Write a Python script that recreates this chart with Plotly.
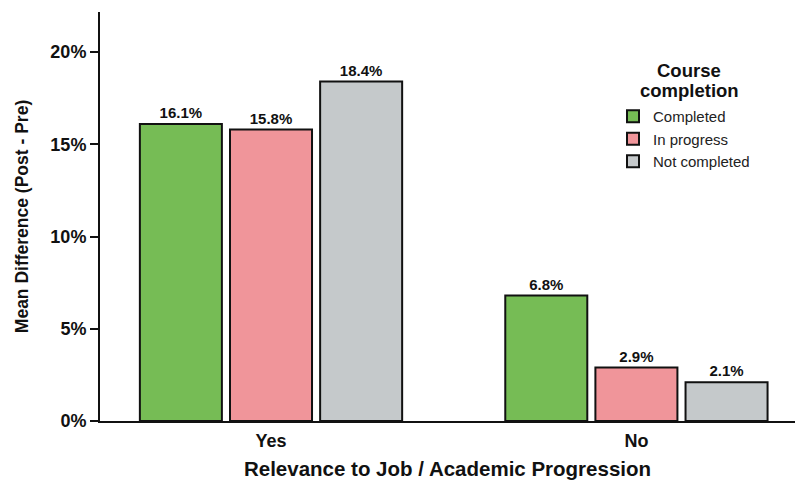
import plotly.graph_objects as go

categories = ["Yes", "No"]
series_names = ["Completed", "In progress", "Not completed"]
completed = [16.1, 6.8]
in_progress = [15.8, 2.9]
not_completed = [18.4, 2.1]
colors = ["#76BC55", "#F0959A", "#C5C9CB"]
y_ticks = [0, 5, 10, 15, 20]
y_tick_labels = ["0%", "5%", "10%", "15%", "20%"]

FONT = "Liberation Sans, Arial, sans-serif"
W, H = 795, 484
ML, MR, MT, MB = 100, 0, 12, 63
PW, PH = W - ML - MR, H - MT - MB

def px_x(x):
    return (x - ML) / PW

def px_y(y):
    return (H - MB - y) / PH

fig = go.Figure()
for name, vals, col in zip(series_names, [completed, in_progress, not_completed], colors):
    fig.add_trace(go.Bar(
        x=categories, y=vals, name=name,
        marker=dict(color=col, line=dict(color="#111111", width=2)),
        text=[f"{v:.1f}%" for v in vals],
        textposition="outside",
        textfont=dict(family=FONT, size=15, color="#111111", weight="bold"),
        cliponaxis=False,
    ))

fig.update_layout(
    width=W, height=H,
    margin=dict(l=ML, r=MR, t=MT, b=MB),
    paper_bgcolor="white", plot_bgcolor="white",
    barmode="group", bargap=0.26, bargroupgap=0.09,
    font=dict(family=FONT, color="#111111"),
    showlegend=True,
    legend=dict(x=px_x(613), y=px_y(100), xanchor="left", yanchor="top",
                font=dict(family=FONT, size=15, color="#222222"),
                tracegroupgap=0, itemwidth=30, bgcolor="rgba(0,0,0,0)"),
    xaxis=dict(range=[-0.468, 1.434], showline=True, linecolor="#111111", linewidth=2,
               ticks="", ticklabelstandoff=2, automargin=False,
               tickfont=dict(family=FONT, size=18, color="#111111", weight="bold"),
               title=dict(text="Relevance to Job / Academic Progression",
                          font=dict(family=FONT, size=20.5, color="#111111", weight="bold"),
                          standoff=12),
               showgrid=False, zeroline=False),
    yaxis=dict(range=[0, 22.17], tickvals=y_ticks, ticktext=y_tick_labels, automargin=False,
               showline=True, linecolor="#111111", linewidth=2,
               ticks="outside", ticklen=8, tickwidth=2, tickcolor="#111111",
               tickfont=dict(family=FONT, size=18, color="#111111", weight="bold"),
               title=dict(text="Mean Difference (Post - Pre)",
                          font=dict(family=FONT, size=17.5, color="#111111", weight="bold"),
                          standoff=17),
               showgrid=False, zeroline=False),
    annotations=[
        dict(text="Course", x=px_x(689), y=px_y(70), xref="paper", yref="paper",
             xanchor="center", yanchor="middle", showarrow=False,
             font=dict(family=FONT, size=18.5, color="#111111", weight="bold")),
        dict(text="completion", x=px_x(689), y=px_y(90), xref="paper", yref="paper",
             xanchor="center", yanchor="middle", showarrow=False,
             font=dict(family=FONT, size=18.5, color="#111111", weight="bold")),
    ],
)
fig.write_html("out.html", config={"displayModeBar": False},
               post_script="document.body.style.margin='0';document.body.style.overflow='hidden';")
